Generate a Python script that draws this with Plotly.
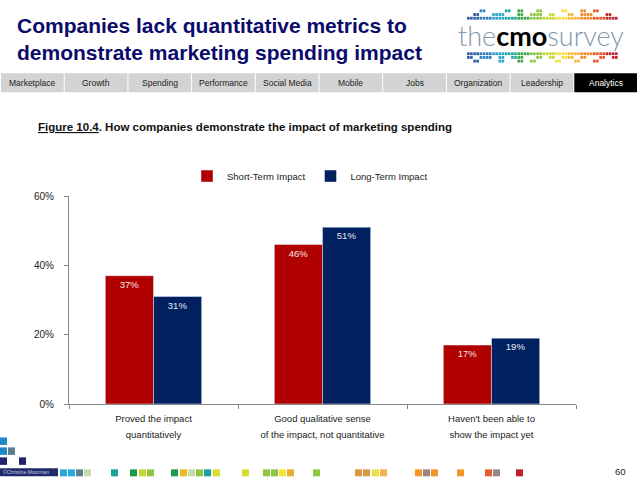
import plotly.graph_objects as go

# chart data
categories = ['Proved the impact quantitatively',
              'Good qualitative sense of the impact, not quantitative',
              "Haven't been able to show the impact yet"]
category_labels = ['Proved the impact<br>quantitatively',
                   'Good qualitative sense<br>of the impact, not quantitative',
                   "Haven't been able to<br>show the impact yet"]
short_term = [37, 46, 17]
long_term = [31, 51, 19]
series_names = ['Short-Term Impact', 'Long-Term Impact']
y_ticks = [0, 20, 40, 60]
y_tick_labels = ['0%', '20%', '40%', '60%']

nav_items = ['Marketplace', 'Growth', 'Spending', 'Performance', 'Social Media',
             'Mobile', 'Jobs', 'Organization', 'Leadership', 'Analytics']

RED = '#b00000'
NAVY = '#002060'
SANS = 'Liberation Sans, Arial, sans-serif'

W, H = 638, 479
L, R, T, B = 69, 576, 196, 404.5


def px(x):
    # page pixel -> paper x
    return (x - L) / (R - L)


def py(y):
    # page pixel -> paper y
    return (B - y) / (B - T)


def box(x0, y0, x1, y1, color):
    return dict(type='rect', xref='paper', yref='paper', layer='below',
                x0=px(x0), x1=px(x1), y0=py(y1), y1=py(y0),
                fillcolor=color, line=dict(width=0))


fig = go.Figure()

fig.add_trace(go.Bar(
    name=series_names[0], x=categories, y=short_term, marker_color=RED,
    text=[f'{v}%' for v in short_term], textposition='inside',
    insidetextanchor='end', textfont=dict(color='#f4e6e6', size=9.5, family=SANS),
))
fig.add_trace(go.Bar(
    name=series_names[1], x=categories, y=long_term, marker_color=NAVY,
    text=[f'{v}%' for v in long_term], textposition='inside',
    insidetextanchor='end', textfont=dict(color='#e6eaf2', size=9.5, family=SANS),
))

shapes = []
annotations = []

# title
annotations.append(dict(
    text='<b>Companies lack quantitative metrics to<br>demonstrate marketing spending impact</b>',
    xref='paper', yref='paper', x=px(15), y=py(12), xanchor='left', yanchor='top',
    align='left', showarrow=False,
    font=dict(family=SANS, size=21, color='#0b0b6b')))

# logo
logo_cols = ['#2c5a9c', '#2f7fbf', '#2aa3c9', '#21a59b', '#3aa648', '#8cc63f',
             '#c9d530', '#f1e23a', '#f5b631', '#f08a2c', '#e8552d', '#c4202c']
pattern_top = ['..x...x.x..x...x..x.x...', '.x..xx..x.xx.x..x.xx..x.', 'xxxxxxxxxxxxxxxxxxxxxxxx']
pattern_bot = ['xxxxxxxxxxxxxxxxxxxxxxxx', 'x.xx.x.xx..x.x.xx.x..x.x', '.x...x..x.x...x..x..x...']
for rows, y_start in [(pattern_top, 9), (pattern_bot, 52)]:
    for r, row in enumerate(rows):
        for c, ch in enumerate(row):
            if ch == 'x':
                for k in range(2):
                    x0 = 467 + c * 6.3 + k * 3.1
                    col = logo_cols[min(int((c * 2 + k) / 48 * len(logo_cols)), len(logo_cols) - 1)]
                    shapes.append(box(x0, y_start + r * 3.7, x0 + 2.6, y_start + r * 3.7 + 2.8, col))
annotations.append(dict(
    text='<span style="color:#8497ae">the</span><b>cmo</b><span style="color:#8497ae">survey</span>',
    xref='paper', yref='paper', x=px(541), y=py(35), xanchor='center', yanchor='middle',
    showarrow=False, font=dict(family='Lato, Liberation Sans, sans-serif', size=27,
                               weight=300, color='#000000')))

# navigation bar
cell_w = 63.7
for i, item in enumerate(nav_items):
    x0 = 1 + i * cell_w
    x1 = min(x0 + cell_w - 1, W)
    active = item == 'Analytics'
    shapes.append(box(x0, 73, x1, 92, '#000000' if active else '#d3d3d3'))
    annotations.append(dict(
        text=item, xref='paper', yref='paper', x=px((x0 + x1) / 2), y=py(82.5),
        xanchor='center', yanchor='middle', showarrow=False,
        font=dict(family=SANS, size=8.5, color='#ffffff' if active else '#222222')))

# figure caption
annotations.append(dict(
    text='<b><u>Figure 10.4</u>. How companies demonstrate the impact of marketing spending</b>',
    xref='paper', yref='paper', x=px(36), y=py(127), xanchor='left', yanchor='middle',
    showarrow=False, font=dict(family=SANS, size=11.5, color='#111111')))

# footer
shapes.append(box(0, 469, 58, 477, '#1f2a6b'))
annotations.append(dict(
    text='©Christine Moorman', xref='paper', yref='paper', x=px(1), y=py(473),
    xanchor='left', yanchor='middle', showarrow=False,
    font=dict(family=SANS, size=5, color='#c8cce0')))
left_squares = [(0, 438, '#1e88c8'), (0, 448, '#1e88c8'), (8, 448, '#5b7f8e'),
                (0, 458, '#23236b'), (19, 458, '#23236b')]
for x0, y0, col in left_squares:
    shapes.append(box(x0, y0, x0 + 7, y0 + 7.5, col))
footer_squares = [(60, '#29a8e0'), (68, '#29a8e0'), (76, '#5b7f8e'), (84, '#c5deab'),
                  (111, '#1aa39a'), (130, '#1e9a48'), (139, '#c9d630'), (147, '#8dc63f'),
                  (171, '#1e9a48'), (180, '#e8b920'), (188, '#c5deab'), (196, '#8dc63f'),
                  (204, '#1aa39a'), (213, '#d6de2e'), (242, '#d6de2e'), (263, '#8dc63f'),
                  (271, '#8dc63f'), (279, '#f5e53a'), (287, '#e8b030'), (313, '#8dc63f'),
                  (355, '#d89a40'), (363, '#d89a40'), (372, '#f0e040'), (380, '#f5b050'),
                  (415, '#f0962a'), (423, '#9a8880'), (431, '#f0962a'), (457, '#f0962a'),
                  (485, '#e85a30'), (493, '#9a8880'), (516, '#c0202a')]
for x0, col in footer_squares:
    shapes.append(box(x0, 470, x0 + 7, 477, col))
annotations.append(dict(
    text='60', xref='paper', yref='paper', x=px(628), y=py(472),
    xanchor='right', yanchor='middle', showarrow=False,
    font=dict(family=SANS, size=9.5, color='#222222')))

fig.update_layout(
    width=W, height=H,
    margin=dict(l=L, r=W - R, t=T, b=H - B, pad=0),
    paper_bgcolor='#ffffff', plot_bgcolor='#ffffff',
    barmode='group', bargap=0.43, bargroupgap=0,
    font=dict(family=SANS, size=9, color='#222222'),
    showlegend=True,
    legend=dict(orientation='h', x=px(310), y=py(176), xanchor='center', yanchor='middle',
                font=dict(family=SANS, size=9.5, color='#222222'),
                itemwidth=30, tracegroupgap=0, bgcolor='rgba(0,0,0,0)'),
    shapes=shapes, annotations=annotations,
)
# bigger tick font gives the taller line spacing of the original; spans keep the glyphs small
fig.update_xaxes(tickvals=categories,
                 ticktext=['<span style="font-size:9.5px">' + t.replace('<br>', '</span><br><span style="font-size:9.5px">') + '</span>'
                           for t in category_labels],
                 showline=True, linecolor='#888888', linewidth=1,
                 ticks='outside', tickson='boundaries', ticklen=4, tickcolor='#888888',
                 tickfont=dict(family=SANS, size=12, color='#222222'), ticklabelstandoff=3,
                 showgrid=False, fixedrange=True)
fig.update_yaxes(range=[0, 60], tickvals=y_ticks, ticktext=y_tick_labels,
                 showline=True, linecolor='#888888', linewidth=1,
                 ticks='outside', ticklen=4, tickcolor='#888888',
                 tickfont=dict(family=SANS, size=10, color='#222222'), ticklabelstandoff=8,
                 showgrid=False, zeroline=False, fixedrange=True)

fig.write_html("out.html", config={'displayModeBar': False},
               post_script="document.body.style.margin='0px';document.body.style.overflow='hidden';")
